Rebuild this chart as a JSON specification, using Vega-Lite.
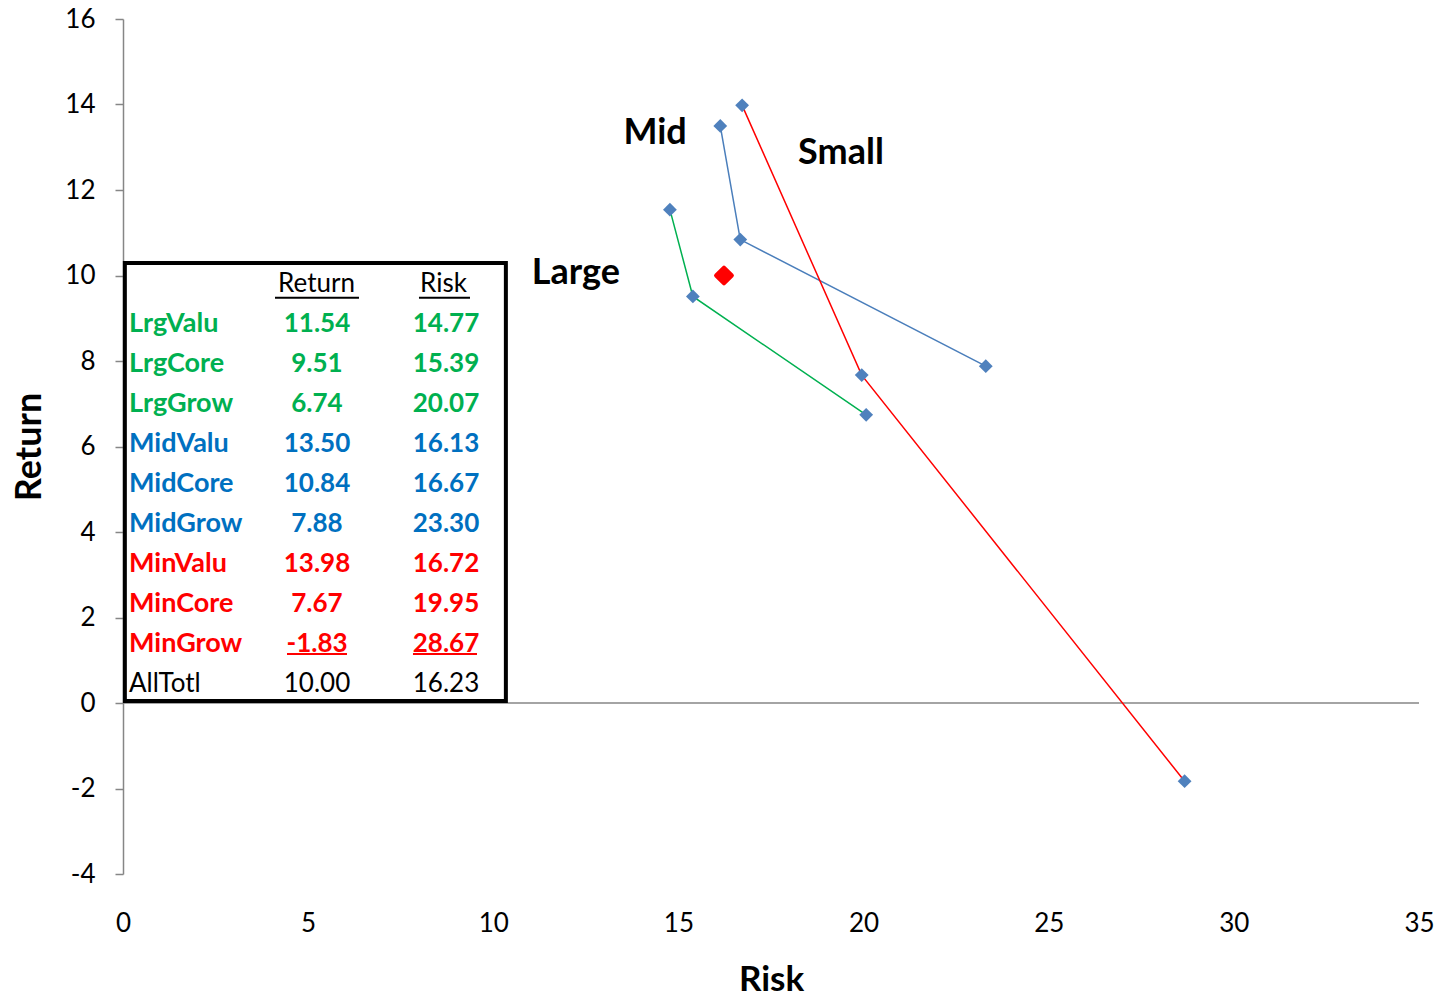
{
  "$schema": "https://vega.github.io/schema/vega-lite/v6.json",
  "width": 1296,
  "height": 855,
  "autosize": {"type": "none"},
  "padding": {"left": 123, "top": 19, "right": 28, "bottom": 122},
  "background": "white",
  "config": {
    "view": {"stroke": null},
    "font": "Lato",
    "axis": {"grid": false},
    "locale": {"number": {"decimal": ".", "thousands": ",", "grouping": [3], "currency": ["$", ""], "minus": "-"}}
  },
  "datasets": {
    "pts": [
      {"name": "LrgValu", "grp": "Large", "ord": 1, "ret": 11.54, "risk": 14.77},
      {"name": "LrgCore", "grp": "Large", "ord": 2, "ret": 9.51, "risk": 15.39},
      {"name": "LrgGrow", "grp": "Large", "ord": 3, "ret": 6.74, "risk": 20.07},
      {"name": "MidValu", "grp": "Mid", "ord": 1, "ret": 13.50, "risk": 16.13},
      {"name": "MidCore", "grp": "Mid", "ord": 2, "ret": 10.84, "risk": 16.67},
      {"name": "MidGrow", "grp": "Mid", "ord": 3, "ret": 7.88, "risk": 23.30},
      {"name": "MinValu", "grp": "Small", "ord": 1, "ret": 13.98, "risk": 16.72},
      {"name": "MinCore", "grp": "Small", "ord": 2, "ret": 7.67, "risk": 19.95},
      {"name": "MinGrow", "grp": "Small", "ord": 3, "ret": -1.83, "risk": 28.67}
    ],
    "total": [
      {"name": "AllTotl", "grp": "All", "ret": 10.00, "risk": 16.23}
    ],
    "table": [
      {"row": 1, "name": "LrgValu", "grp": "Large", "ret": 11.54, "risk": 14.77},
      {"row": 2, "name": "LrgCore", "grp": "Large", "ret": 9.51, "risk": 15.39},
      {"row": 3, "name": "LrgGrow", "grp": "Large", "ret": 6.74, "risk": 20.07},
      {"row": 4, "name": "MidValu", "grp": "Mid", "ret": 13.50, "risk": 16.13},
      {"row": 5, "name": "MidCore", "grp": "Mid", "ret": 10.84, "risk": 16.67},
      {"row": 6, "name": "MidGrow", "grp": "Mid", "ret": 7.88, "risk": 23.30},
      {"row": 7, "name": "MinValu", "grp": "Small", "ret": 13.98, "risk": 16.72},
      {"row": 8, "name": "MinCore", "grp": "Small", "ret": 7.67, "risk": 19.95},
      {"row": 9, "name": "MinGrow", "grp": "Small", "ret": -1.83, "risk": 28.67},
      {"row": 10, "name": "AllTotl", "grp": "All", "ret": 10.00, "risk": 16.23}
    ]
  },
  "layer": [
    {
      "layer": [
        {
          "data": {"values": [{}]},
          "mark": {"type": "rule", "color": "#868686", "strokeWidth": 1.5},
          "encoding": {
            "x": {"datum": 0, "type": "quantitative", "scale": {"domain": [0, 35], "nice": false, "zero": false},
              "axis": {"title": "Risk", "values": [0, 5, 10, 15, 20, 25, 30, 35], "domain": false, "ticks": false,
                "labelFlush": false, "labelFontSize": 26, "labelColor": "black", "labelPadding": 36, "titleFontSize": 35, "titleFontWeight": "bold",
                "titleColor": "black", "titlePadding": 26}},
            "x2": {"datum": 35},
            "y": {"datum": 0, "type": "quantitative", "scale": {"domain": [-4, 16], "nice": false, "zero": false},
              "axis": {"title": "Return", "values": [-4, -2, 0, 2, 4, 6, 8, 10, 12, 14, 16], "domainColor": "#868686",
                "domainWidth": 1.5, "tickColor": "#868686", "tickWidth": 1.5, "tickSize": 8, "labelFontSize": 26,
                "labelColor": "black", "labelPadding": 20, "titleFontSize": 36, "titleFontWeight": "bold",
                "titleColor": "black", "titlePadding": 16}}
          }
        },
        {
          "data": {"name": "pts"},
          "mark": {"type": "line", "strokeWidth": 1.5},
          "encoding": {
            "x": {"field": "risk", "type": "quantitative"},
            "y": {"field": "ret", "type": "quantitative"},
            "order": {"field": "ord"},
            "color": {"field": "grp", "type": "nominal",
              "scale": {"domain": ["Large", "Mid", "Small"], "range": ["#00b050", "#4a7ebb", "#ff0000"]}, "legend": null}
          }
        },
        {
          "data": {"name": "pts"},
          "mark": {"type": "point", "shape": "diamond", "filled": true, "size": 190, "color": "#4f81bd", "opacity": 1},
          "encoding": {
            "x": {"field": "risk", "type": "quantitative"},
            "y": {"field": "ret", "type": "quantitative"}
          }
        },
        {
          "data": {"name": "total"},
          "mark": {"type": "point", "shape": "diamond", "filled": true, "size": 250, "color": "#ff0000", "stroke": "#ff0000",
            "strokeWidth": 4, "strokeJoin": "round", "opacity": 1},
          "encoding": {
            "x": {"field": "risk", "type": "quantitative"},
            "y": {"field": "ret", "type": "quantitative"}
          }
        },
        {
          "data": {"values": [{}]},
          "mark": {"type": "text", "text": "Mid", "fontSize": 36, "fontWeight": "bold", "color": "black", "align": "center", "baseline": "middle"},
          "encoding": {"x": {"datum": 14.37}, "y": {"datum": 13.33}}
        },
        {
          "data": {"values": [{}]},
          "mark": {"type": "text", "text": "Small", "fontSize": 36, "fontWeight": "bold", "color": "black", "align": "center", "baseline": "middle"},
          "encoding": {"x": {"datum": 19.39}, "y": {"datum": 12.865}}
        },
        {
          "data": {"values": [{}]},
          "mark": {"type": "text", "text": "Large", "fontSize": 36, "fontWeight": "bold", "color": "black", "align": "center", "baseline": "middle"},
          "encoding": {"x": {"datum": 12.23}, "y": {"datum": 10.06}}
        }
      ]
    },
    {
      "layer": [
        {
          "data": {"values": [{}]},
          "mark": {"type": "rect", "fill": "white", "stroke": "black", "strokeWidth": 4},
          "encoding": {
            "x": {"datum": 0.05, "type": "quantitative"},
            "x2": {"datum": 10.34},
            "y": {"datum": -0.525, "type": "quantitative",
              "scale": {"domain": [-6.625, 14.75], "nice": false, "zero": false, "reverse": true}, "axis": null},
            "y2": {"datum": 10.425}
          }
        },
        {
          "data": {"values": [{}]},
          "mark": {"type": "text", "text": "Return", "fontSize": 26, "color": "black", "align": "center", "baseline": "middle"},
          "encoding": {"x": {"datum": 5.226}, "y": {"datum": 0}}
        },
        {
          "data": {"values": [{}]},
          "mark": {"type": "text", "text": "Risk", "fontSize": 26, "color": "black", "align": "center", "baseline": "middle"},
          "encoding": {"x": {"datum": 8.655}, "y": {"datum": 0}}
        },
        {
          "data": {"values": [{}]},
          "mark": {"type": "rule", "color": "black", "strokeWidth": 2},
          "encoding": {"x": {"datum": 4.105}, "x2": {"datum": 6.373}, "y": {"datum": 0.3425}}
        },
        {
          "data": {"values": [{}]},
          "mark": {"type": "rule", "color": "black", "strokeWidth": 2},
          "encoding": {"x": {"datum": 7.993}, "x2": {"datum": 9.371}, "y": {"datum": 0.3425}}
        },
        {
          "data": {"values": [{}]},
          "mark": {"type": "rule", "color": "#ff0000", "strokeWidth": 2},
          "encoding": {"x": {"datum": 4.429}, "x2": {"datum": 6.049}, "y": {"datum": 9.25}}
        },
        {
          "data": {"values": [{}]},
          "mark": {"type": "rule", "color": "#ff0000", "strokeWidth": 2},
          "encoding": {"x": {"datum": 7.831}, "x2": {"datum": 9.56}, "y": {"datum": 9.25}}
        },
        {
          "data": {"name": "table"},
          "transform": [{"filter": "datum.grp !== 'All'"}],
          "layer": [
            {
              "mark": {"type": "text", "fontSize": 27, "fontWeight": "bold", "align": "left", "baseline": "middle"},
              "encoding": {"x": {"datum": 0.162}, "y": {"field": "row", "type": "quantitative"}, "text": {"field": "name"},
                "color": {"field": "grp", "type": "nominal", "scale": {"domain": ["Large", "Mid", "Small", "All"], "range": ["#00b050", "#0070c0", "#ff0000", "#000000"]}, "legend": null}}
            },
            {
              "mark": {"type": "text", "fontSize": 26, "fontWeight": "bold", "align": "center", "baseline": "middle"},
              "encoding": {"x": {"datum": 5.239}, "y": {"field": "row", "type": "quantitative"}, "text": {"field": "ret", "format": ".2f"},
                "color": {"field": "grp", "type": "nominal", "legend": null}}
            },
            {
              "mark": {"type": "text", "fontSize": 26, "fontWeight": "bold", "align": "center", "baseline": "middle"},
              "encoding": {"x": {"datum": 8.723}, "y": {"field": "row", "type": "quantitative"}, "text": {"field": "risk", "format": ".2f"},
                "color": {"field": "grp", "type": "nominal", "legend": null}}
            }
          ]
        },
        {
          "data": {"name": "table"},
          "transform": [{"filter": "datum.grp === 'All'"}],
          "layer": [
            {
              "mark": {"type": "text", "fontSize": 26, "align": "left", "baseline": "middle", "color": "black"},
              "encoding": {"x": {"datum": 0.162}, "y": {"field": "row", "type": "quantitative"}, "text": {"field": "name"}}
            },
            {
              "mark": {"type": "text", "fontSize": 26, "align": "center", "baseline": "middle", "color": "black"},
              "encoding": {"x": {"datum": 5.239}, "y": {"field": "row", "type": "quantitative"}, "text": {"field": "ret", "format": ".2f"}}
            },
            {
              "mark": {"type": "text", "fontSize": 26, "align": "center", "baseline": "middle", "color": "black"},
              "encoding": {"x": {"datum": 8.723}, "y": {"field": "row", "type": "quantitative"}, "text": {"field": "risk", "format": ".2f"}}
            }
          ]
        }
      ]
    }
  ],
  "resolve": {"scale": {"y": "independent", "color": "independent"}, "axis": {"y": "independent"}}
}
